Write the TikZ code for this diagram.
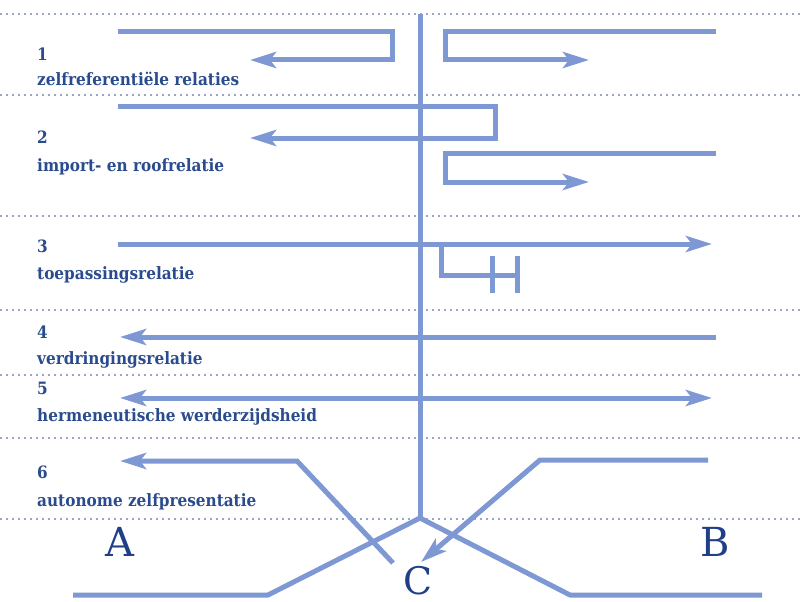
\documentclass[tikz,border=0pt]{standalone}
\usepackage{fontspec}
\setmainfont{DejaVu Serif}
\newfontfamily\labfont{DejaVu Serif Condensed}
\usetikzlibrary{arrows.meta}
\definecolor{linec}{HTML}{7E98D4}
\definecolor{dotc}{HTML}{9AA6C4}
\definecolor{textc}{HTML}{2A4B8D}
\definecolor{bigc}{HTML}{1F3F88}
\begin{document}
\begin{tikzpicture}[x=1pt,y=-1pt,
  rel/.style={draw=linec,line width=5pt,miter limit=10},
  arr/.style={rel,-{Stealth[length=26pt,width=16pt,inset=6pt]}},
  darr/.style={rel,{Stealth[length=26pt,width=16pt,inset=6pt]}-{Stealth[length=26pt,width=16pt,inset=6pt]}},
  sep/.style={draw=dotc,line width=1.6pt,dash pattern=on 1.8pt off 4.2pt},
  num/.style={anchor=base west,text=textc,font=\labfont\bfseries\fontsize{17}{19}\selectfont,inner sep=0pt},
  lab/.style={anchor=base west,text=textc,font=\labfont\bfseries\fontsize{17}{19}\selectfont,inner sep=0pt},
  big/.style={anchor=base,text=bigc,font=\fontsize{40}{44}\selectfont,inner sep=0pt}]
\useasboundingbox[fill=white] (0,0) rectangle (804,602);
% separators
\foreach \yy/\nm in {14/s0,95/s1,216/s2,310/s3,375/s4,438/s5,519/s6}{
  \coordinate (\nm l) at (0,\yy);
  \coordinate (\nm r) at (804,\yy);
  \draw[sep] (\nm l) -- (\nm r);
}
% labels
\node[num] (n1) at (37,61) {1};
\node[lab] (t1) at (37,86) {zelfreferentiële relaties};
\node[num] (n2) at (37,143) {2};
\node[lab] (t2) at (37,171) {import- en roofrelatie};
\node[num] (n3) at (37,252) {3};
\node[lab] (t3) at (37,279) {toepassingsrelatie};
\node[num] (n4) at (37,338) {4};
\node[lab] (t4) at (37,364) {verdringingsrelatie};
\node[num] (n5) at (37,394) {5};
\node[lab] (t5) at (37,421) {hermeneutische werderzijdsheid};
\node[num] (n6) at (37,478) {6};
\node[lab] (t6) at (37,506) {autonome zelfpresentatie};
\node[big] (A) at (120,556) {A};
\node[big] (B) at (715,556) {B};
\node[big,font=\fontsize{38}{42}\selectfont] (C) at (418,594) {C};
% coordinates
\coordinate (top) at (420,14);
\coordinate (j) at (420,518);
\coordinate (bl1) at (73,595);
\coordinate (bl2) at (268,595);
\coordinate (br1) at (570,595);
\coordinate (br2) at (762,595);
% central axis and bottom
\draw[rel] (top) -- (j);
\draw[rel,line join=round] (bl1) -- (bl2) -- (j) -- (br1) -- (br2);
% row 1
\coordinate (r1a) at (118,32); \coordinate (r1b) at (392,32);
\coordinate (r1c) at (392,60); \coordinate (r1d) at (250,60);
\draw[arr] (r1a) -- (r1b) -- (r1c) -- (r1d);
\coordinate (r1e) at (716,32); \coordinate (r1f) at (445,32);
\coordinate (r1g) at (445,60); \coordinate (r1h) at (589,60);
\draw[arr] (r1e) -- (r1f) -- (r1g) -- (r1h);
% row 2
\coordinate (r2a) at (118,107); \coordinate (r2b) at (495,107);
\coordinate (r2c) at (495,138); \coordinate (r2d) at (250,138);
\draw[arr] (r2a) -- (r2b) -- (r2c) -- (r2d);
\coordinate (r2e) at (716,153); \coordinate (r2f) at (445,153);
\coordinate (r2g) at (445,182); \coordinate (r2h) at (589,182);
\draw[arr] (r2e) -- (r2f) -- (r2g) -- (r2h);
% row 3
\coordinate (r3a) at (118,244); \coordinate (r3b) at (712,244);
\draw[arr] (r3a) -- (r3b);
\coordinate (r3c) at (441,244); \coordinate (r3d) at (441,275);
\coordinate (r3e) at (517,275);
\draw[rel] (r3c) -- (r3d) -- (r3e);
\coordinate (h1t) at (492,256); \coordinate (h1b) at (492,293);
\coordinate (h2t) at (517,256); \coordinate (h2b) at (517,293);
\draw[rel] (h1t) -- (h1b);
\draw[rel] (h2t) -- (h2b);
% row 4
\coordinate (r4a) at (716,337); \coordinate (r4b) at (120,337);
\draw[arr] (r4a) -- (r4b);
% row 5
\coordinate (r5a) at (120,398); \coordinate (r5b) at (712,398);
\draw[darr] (r5a) -- (r5b);
% row 6
\coordinate (r6a) at (393,563); \coordinate (r6b) at (297,461);
\coordinate (r6c) at (120,461);
\draw[arr] (r6a) -- (r6b) -- (r6c);
\coordinate (r6d) at (708,460); \coordinate (r6e) at (540,460);
\coordinate (r6f) at (421,562);
\draw[arr] (r6d) -- (r6e) -- (r6f);
\end{tikzpicture}
\end{document}
